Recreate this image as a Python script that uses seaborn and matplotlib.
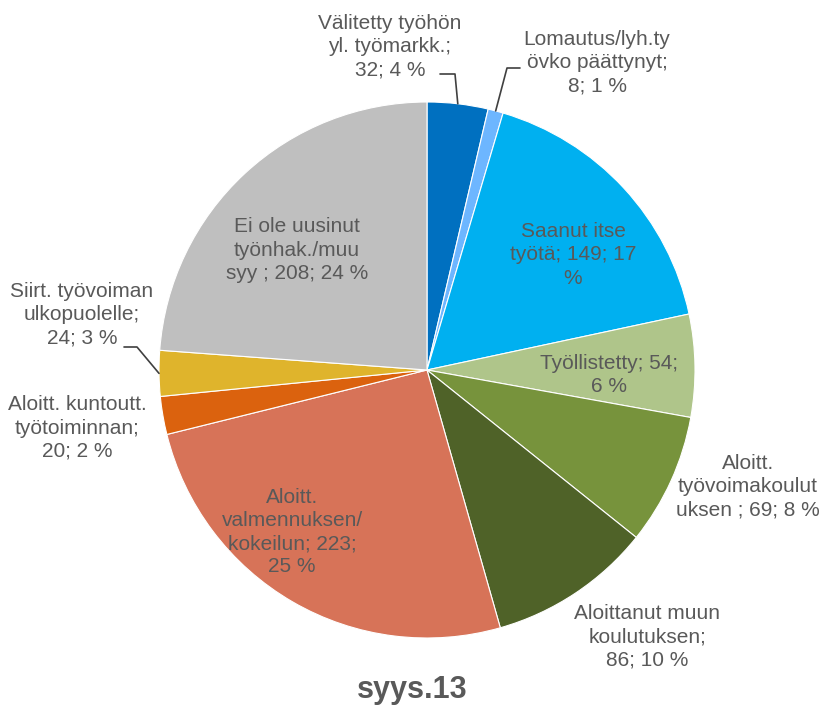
import numpy as np
import matplotlib
matplotlib.use("Agg")
import matplotlib.pyplot as plt
import seaborn as sns

# === Données ===
categories = [
    "Välitetty työhön\nyl. työmarkk.;",
    "Lomautus/lyh.ty\növko päättynyt;",
    "Saanut itse\ntyötä;",
    "Työllistetty;",
    "Aloitt.\ntyövoimakoulut\nuksen ;",
    "Aloittanut muun\nkoulutuksen;",
    "Aloitt.\nvalmennuksen/\nkokeilun;",
    "Aloitt. kuntoutt.\ntyötoiminnan;",
    "Siirt. työvoiman\nulkopuolelle;",
    "Ei ole uusinut\ntyönhak./muu\nsyy ;",
]
values = [32, 8, 149, 54, 69, 86, 223, 20, 24, 208]
percents = [4, 1, 17, 6, 8, 10, 25, 2, 3, 24]
label_texts = [
    "Välitetty työhön\nyl. työmarkk.;\n32; 4 %",
    "Lomautus/lyh.ty\növko päättynyt;\n8; 1 %",
    "Saanut itse\ntyötä; 149; 17\n%",
    "Työllistetty; 54;\n6 %",
    "Aloitt.\ntyövoimakoulut\nuksen ; 69; 8 %",
    "Aloittanut muun\nkoulutuksen;\n86; 10 %",
    "Aloitt.\nvalmennuksen/\nkokeilun; 223;\n25 %",
    "Aloitt. kuntoutt.\ntyötoiminnan;\n20; 2 %",
    "Siirt. työvoiman\nulkopuolelle;\n24; 3 %",
    "Ei ole uusinut\ntyönhak./muu\nsyy ; 208; 24 %",
]
colors = ["#0070C0", "#6DB6FF", "#00B0F0", "#AFC58A", "#77933C",
          "#4F6228", "#D77358", "#DB620E", "#DFB42C", "#BFBFBF"]
title = "syys.13"

# === Style ===
sns.set_style("white")
plt.rcParams['font.family'] = ['Liberation Sans', 'DejaVu Sans']
txt_color = "#595959"

fig = plt.figure(figsize=(8.25, 7.08), dpi=100)
R = 268
cx, cy = 427, 370
ax = fig.add_axes([(cx - R) / 825, (708 - cy - R) / 708, 2 * R / 825, 2 * R / 708])

wedges, _ = ax.pie(values, colors=colors, startangle=90, counterclock=False,
                   radius=1, wedgeprops=dict(edgecolor="white", linewidth=0.8))
ax.set_xlim(-1, 1)
ax.set_ylim(-1, 1)
ax.set_aspect("equal")
ax.axis("off")


def px(x, y):
    # pixel position -> data coords
    return (x - cx) / R, (cy - y) / R


# label placement (pixels), leader line elbow for outside labels
label_pos = [(390, 47), (597, 63), (573, 255), (609, 375), (748, 487),
             (647, 637), (292, 532), (77, 428), (82, 315), (297, 250)]
leaders = {0: (440, 74, 455), 1: (520, 68, 507), 8: (124, 347, 137)}

for i, (w, t) in enumerate(zip(wedges, label_texts)):
    x, y = px(*label_pos[i])
    ax.text(x, y, t, ha="center", va="center", fontsize=15, color=txt_color,
            linespacing=1.27, clip_on=False)
    if i in leaders:
        x0, y0, xe = leaders[i]
        ang = np.deg2rad((w.theta1 + w.theta2) / 2)
        ex, ey = np.cos(ang), np.sin(ang)
        a = px(x0, y0)
        b = px(xe, y0)
        ax.plot([a[0], b[0], ex], [a[1], b[1], ey], color="#404040", lw=1.2,
                clip_on=False)

fig.text(412 / 825, 1 - 690 / 708, title, ha="center", va="center",
         fontsize=22, fontweight="bold", color=txt_color)

fig.savefig("out.png", dpi=100)
